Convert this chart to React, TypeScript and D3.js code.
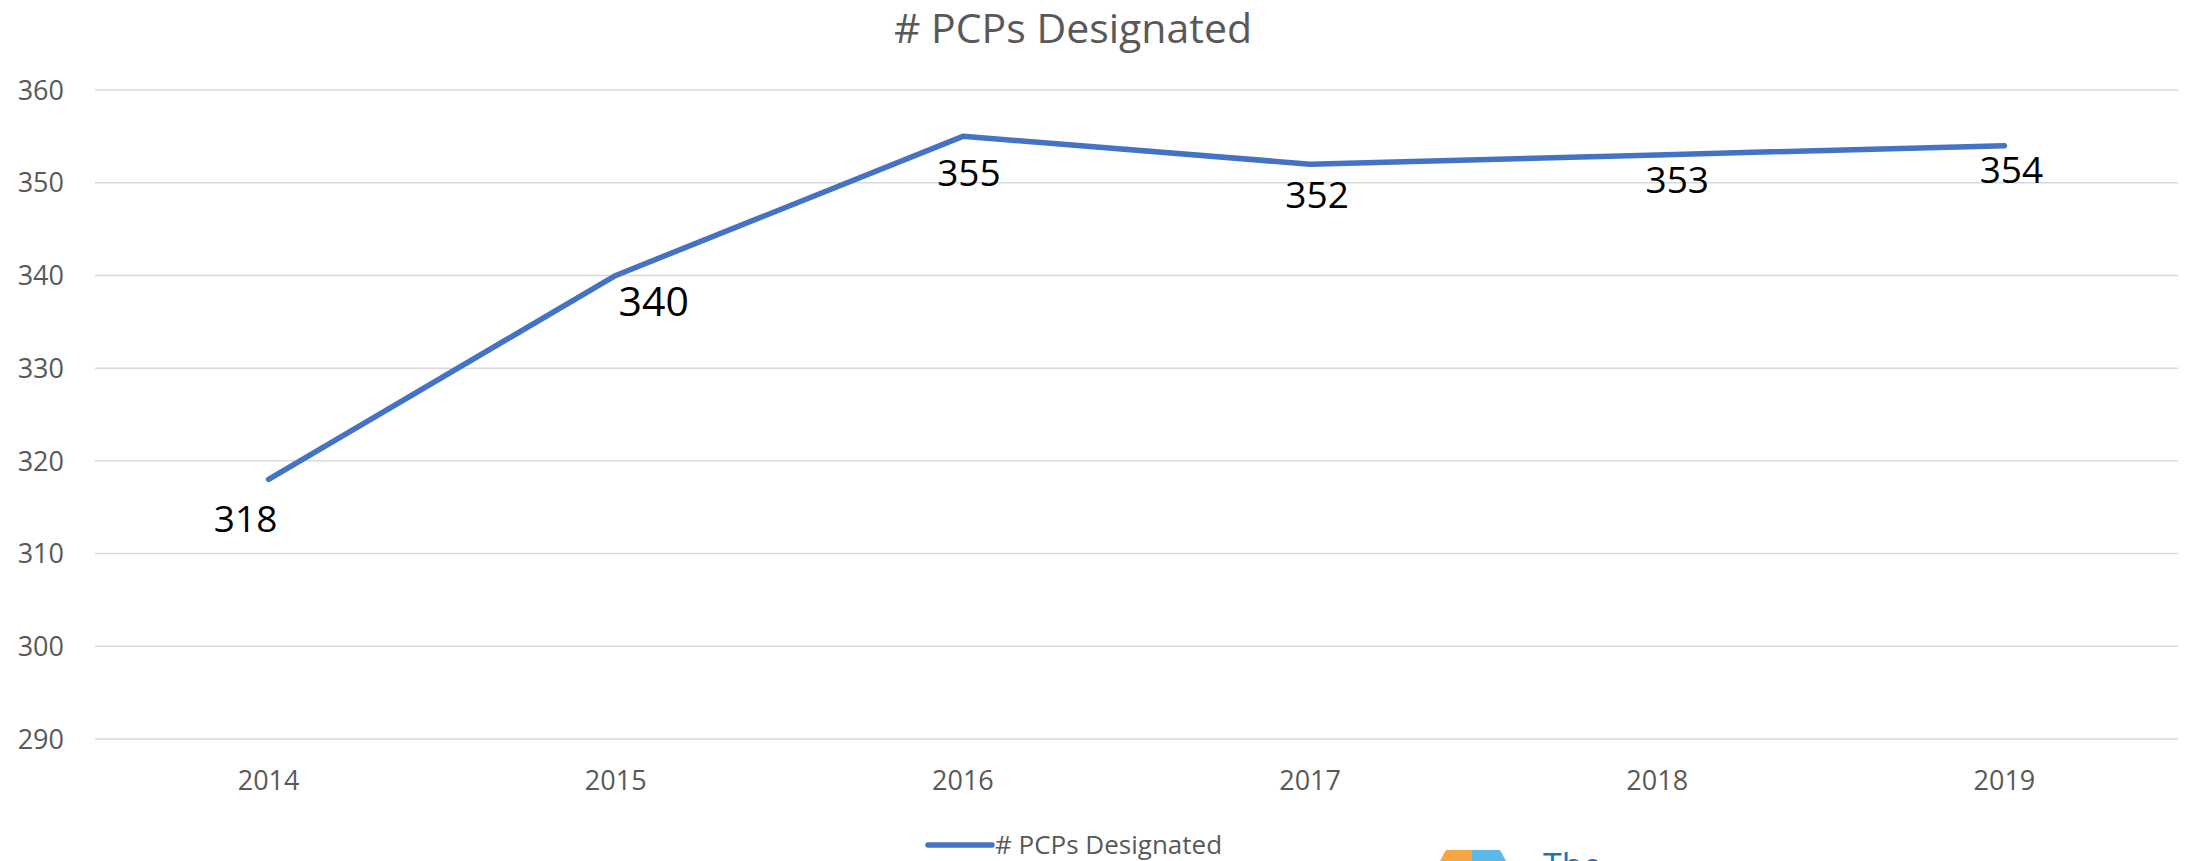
import React from "react";
import * as d3 from "d3";

const years = ["2014", "2015", "2016", "2017", "2018", "2019"];
const pcps = [318, 340, 355, 352, 353, 354];
const yTicks = [290, 300, 310, 320, 330, 340, 350, 360];
const seriesName = "# PCPs Designated";

// label nudges from the point (dx, baseline dy) -- as placed in the original chart
const labelDx = [-23, 38, 6, 7, 20, 7];
const labelDy = [53, 41, 50, 44, 38, 37];
const labelSize = [37, 41, 37, 37, 37, 37];

const W = 2190, H = 861;
const plot = { left: 95, right: 2178, top: 90, bottom: 739 };
const FONT = "'Open Sans', Calibri, sans-serif";
const BLUE = "#4472C4";

export default function App() {
  const x = d3.scalePoint<string>()
    .domain(years)
    .range([plot.left, plot.right])
    .padding(0.5);

  const y = d3.scaleLinear()
    .domain([290, 360])
    .range([plot.bottom, plot.top]);

  const line = d3.line<number>()
    .x((d, i) => x(years[i]) as number)
    .y(d => y(d));

  return (
    <svg
      width={W}
      height={H}
      style={{ position: "absolute", left: 0, top: 0, background: "#fff", display: "block" }}
      fontFamily={FONT}
    >
      <rect width={W} height={H} fill="#fff" />

      {/* title */}
      <text x={1073} y={43} textAnchor="middle" fontSize={41} fill="#595959">
        {seriesName}
      </text>

      {/* grid + y labels */}
      {yTicks.map(t => (
        <g key={t}>
          <line x1={plot.left} x2={plot.right} y1={y(t)} y2={y(t)} stroke="#d9d9d9" strokeWidth={1.5} />
          <text x={64} y={y(t)} dy="0.36em" textAnchor="end" fontSize={27} fill="#595959">
            {t}
          </text>
        </g>
      ))}

      {/* x labels */}
      {years.map(yr => (
        <text key={yr} x={x(yr)} y={790} textAnchor="middle" fontSize={27} fill="#595959">
          {yr}
        </text>
      ))}

      {/* series */}
      <path d={line(pcps) ?? ""} fill="none" stroke={BLUE} strokeWidth={5.5}
        strokeLinecap="round" strokeLinejoin="round" />

      {/* data labels */}
      {pcps.map((v, i) => (
        <text key={i} x={(x(years[i]) as number) + labelDx[i]} y={y(v) + labelDy[i]}
          textAnchor="middle" fontSize={labelSize[i]} fill="#000">
          {v}
        </text>
      ))}

      {/* legend */}
      <line x1={928} x2={992} y1={845} y2={845} stroke={BLUE} strokeWidth={5.5} strokeLinecap="round" />
      <text x={995} y={845} dy="0.36em" fontSize={26} fill="#595959">{seriesName}</text>

      {/* bit of a logo cut off at the bottom */}
      <polygon points="1440,861 1446,850 1472,850 1472,861" fill="#F7A541" />
      <polygon points="1472,861 1472,850 1500,850 1506,861" fill="#5BB8E8" />
      <text x={1543} y={878} fontSize={34} fill="#1B75BC">The</text>
    </svg>
  );
}
